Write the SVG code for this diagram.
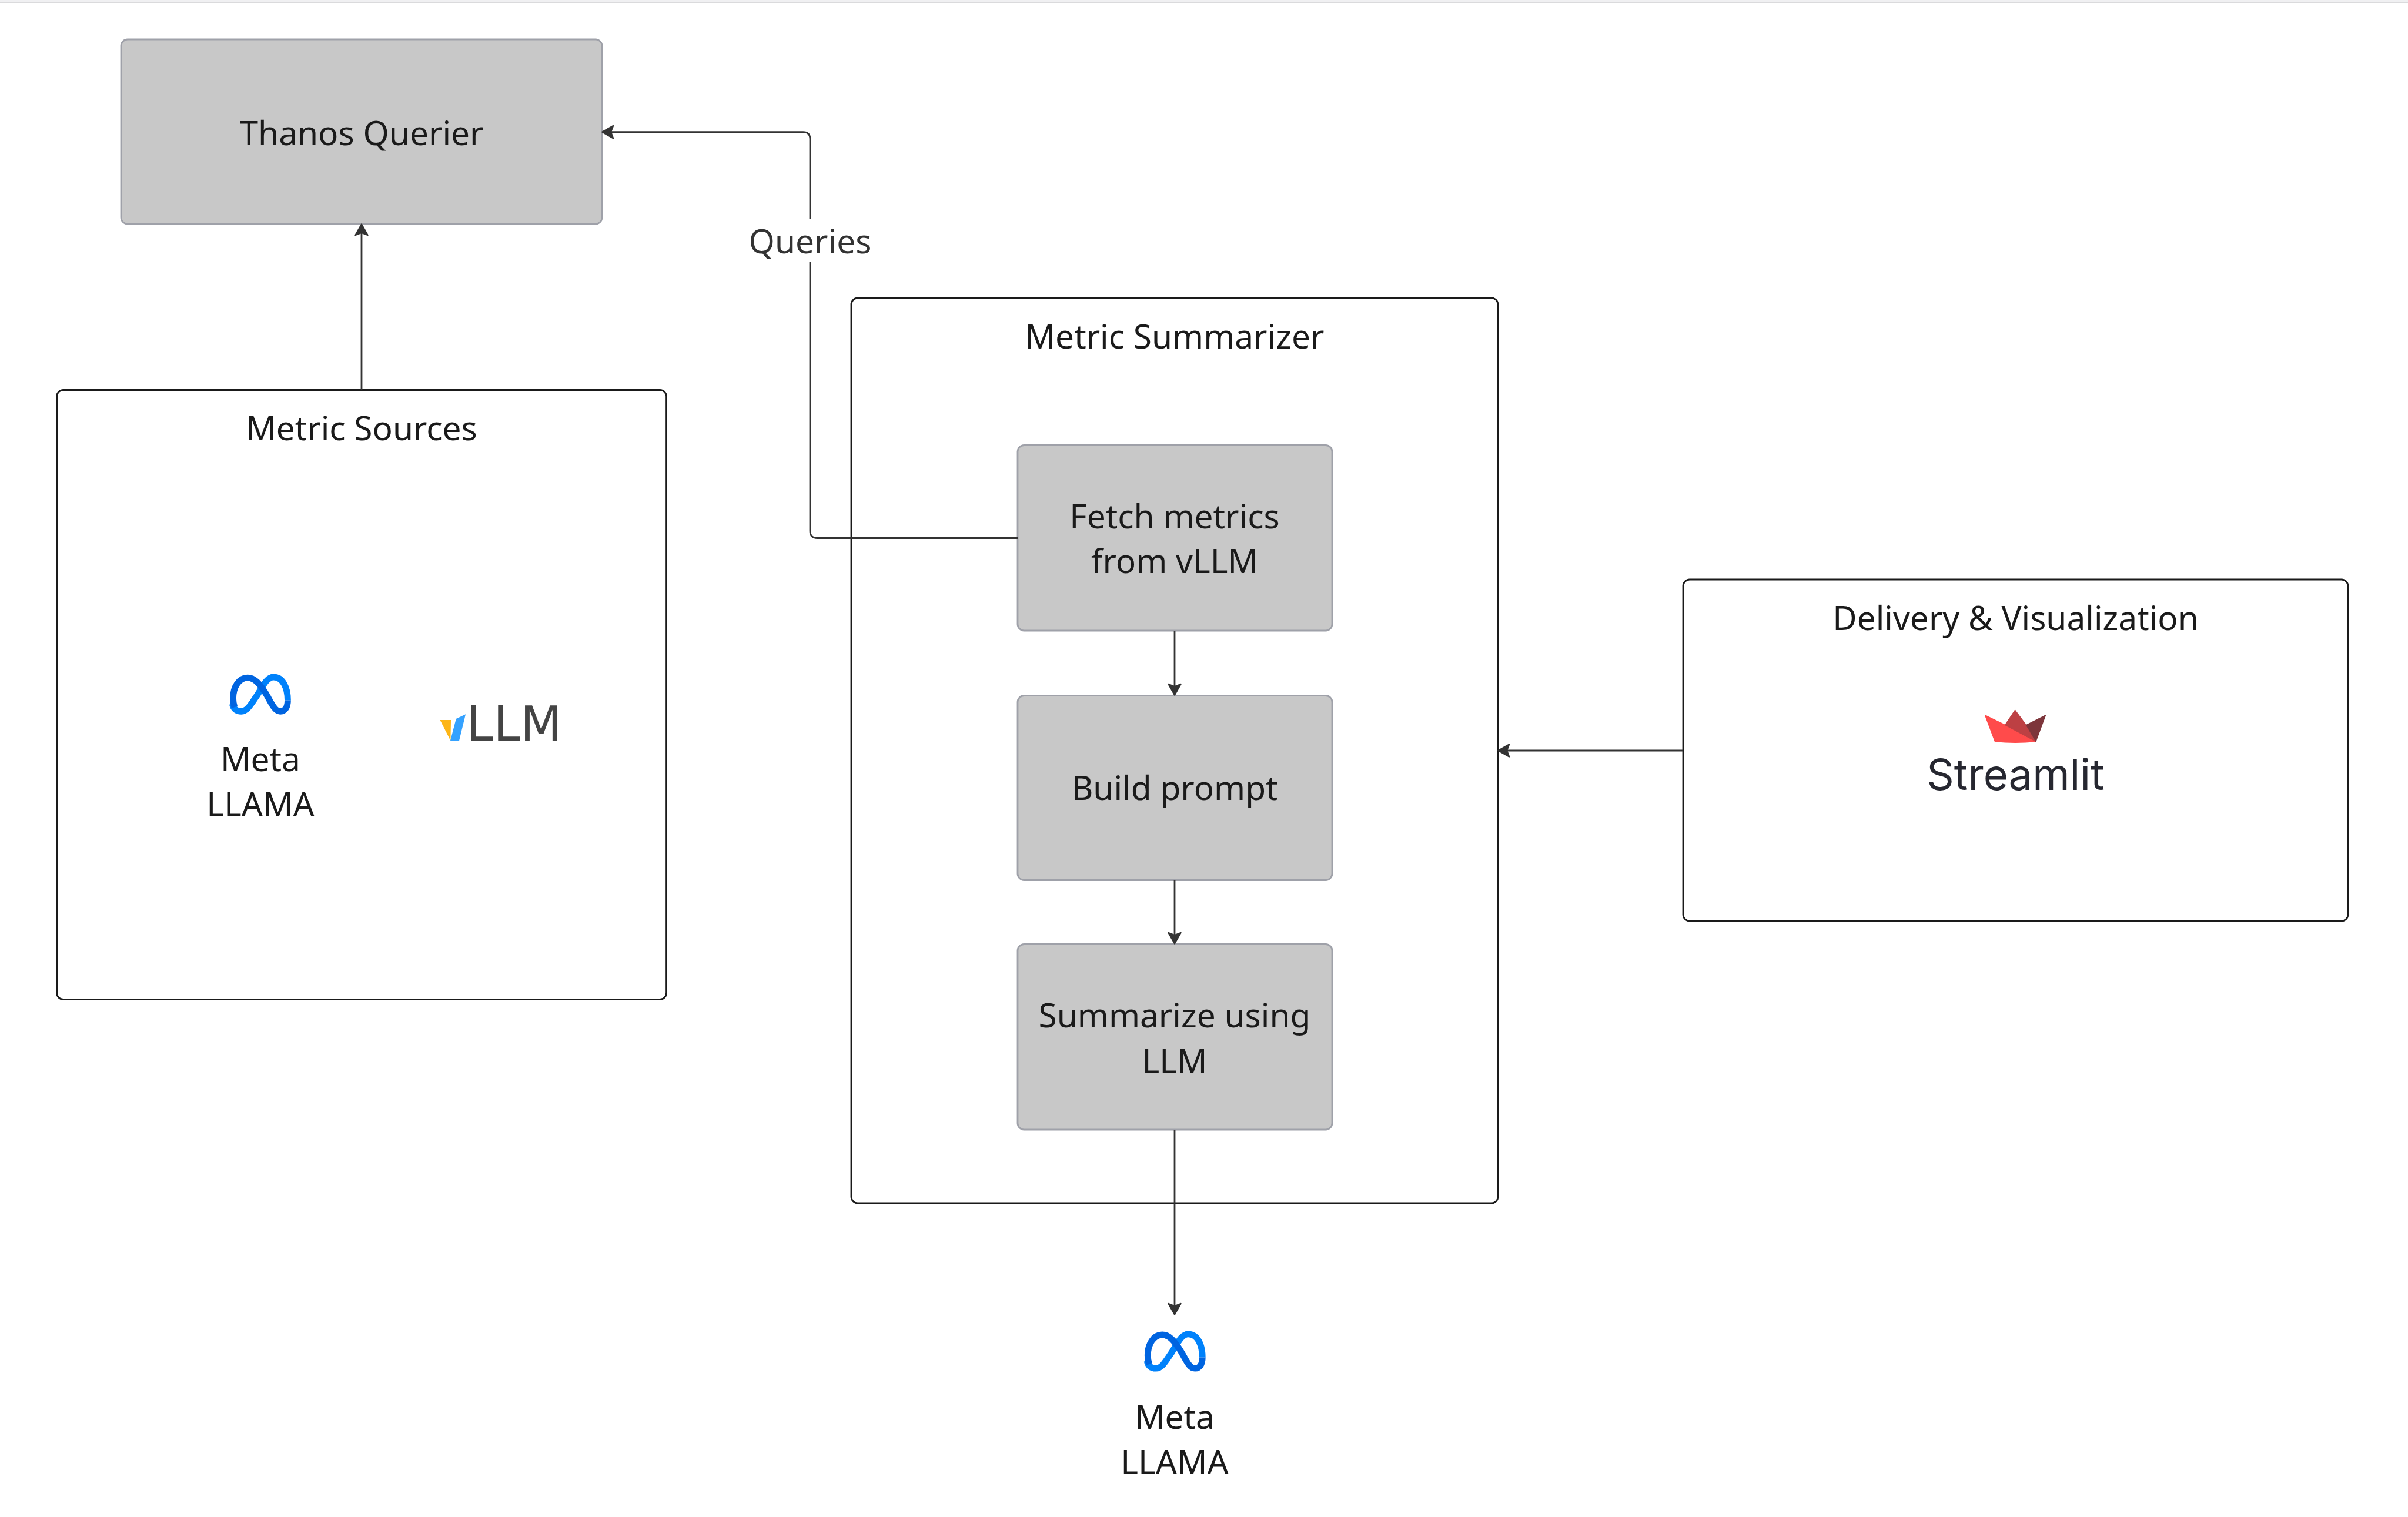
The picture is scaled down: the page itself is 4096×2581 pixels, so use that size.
<svg xmlns="http://www.w3.org/2000/svg" xmlns:xlink="http://www.w3.org/1999/xlink" width="4096" height="2581" viewBox="0 0 4096 2581">
<style>
.proc{fill:#c8c8c8;stroke:#9fa1a9;stroke-width:2.8}
.cont{fill:#fff;stroke:#1a1a1a;stroke-width:2.8}
text{font-family:"Noto Sans","Open Sans","Liberation Sans",sans-serif;font-size:56.8px;fill:#1a1a1a;text-anchor:middle}
.conn{fill:none;stroke:#333;stroke-width:2.8;marker-end:url(#arrow)}
</style>
<defs>
<marker id="arrow" markerUnits="userSpaceOnUse" markerWidth="24" markerHeight="28" viewBox="0 0 24 28" refX="14" refY="14" orient="auto" overflow="visible">
<path d="M3 3.5L21.5 14L3 24.5L7 14Z" fill="#333" stroke="#333" stroke-width="2.4" stroke-linejoin="round"/>
</marker>
<g id="meta-mark" fill="none" stroke-width="40">
<path stroke="#0082fb" d="M300 745C305 775 325 791 355 791C395 791 420 740 455 690C490 635 515 576 558 576C615 576 647 640 647 722"/>
<path stroke="#0064e0" d="M313 765C306 745 304 725 304 710C304 640 340 580 395 580C440 580 470 620 500 665C540 725 560 791 600 791C630 791 647 765 647 722"/>
</g>
</defs>
<rect width="4096" height="2581" fill="#fff"/>
<rect width="4096" height="3.4" fill="#f0f0f2"/>
<rect y="3.4" width="4096" height="1.4" fill="#d2d2d4"/>

<g id="thanos-querier">
<rect class="proc" x="206" y="67" width="818" height="314" rx="11"/>
<text x="615" y="247">Thanos Querier</text>
</g>
<g id="metric-sources">
<rect class="cont" x="96.6" y="663.5" width="1037" height="1037" rx="11"/>
<text x="615" y="749">Metric Sources</text>
<g id="meta-llama-source">
<use xlink:href="#meta-mark" href="#meta-mark" transform="translate(314.1 995.9) scale(.271)"/>
<text x="443" y="1312">Meta</text>
<text x="443" y="1389">LLAMA</text>
</g>
<g id="vllm-logo">
<polygon points="748.5,1224.9 767,1224.9 766.4,1260.2" fill="#fdb515"/>
<polygon points="775.8,1223 792,1215.2 781,1260.2 766,1260.2" fill="#35a2ff"/>
<text x="793.6" y="1260" style="font-family:'DejaVu Sans',sans-serif;font-size:82px;fill:#444;text-anchor:start">LLM</text>
</g>
</g>
<g id="metric-summarizer">
<rect class="cont" x="1448" y="507" width="1100" height="1540" rx="11"/>
<text x="1998" y="593">Metric Summarizer</text>
</g>
<g id="fetch-metrics">
<rect class="proc" x="1731" y="757.5" width="535" height="315.5" rx="11"/>
<text x="1998" y="899">Fetch metrics</text>
<text x="1998" y="975">from vLLM</text>
</g>
<g id="build-prompt">
<rect class="proc" x="1731" y="1183.5" width="535" height="314" rx="11"/>
<text x="1998" y="1361">Build prompt</text>
</g>
<g id="summarize-llm">
<rect class="proc" x="1731" y="1606.5" width="535" height="315.5" rx="11"/>
<text x="1998" y="1748">Summarize using</text>
<text x="1998" y="1826">LLM</text>
</g>
<g id="delivery-visualization">
<rect class="cont" x="2863" y="986" width="1131" height="581" rx="11"/>
<text x="3428.5" y="1072">Delivery &amp; Visualization</text>
<g id="streamlit-logo">
<path d="M3376.6 1216.8L3410.5 1233.5L3463 1261.5Q3428 1265 3393.5 1261.5Z" fill="#ff4b4b" stroke="#ff4b4b" stroke-width="1.5" stroke-linejoin="round"/>
<path d="M3410.5 1233.5L3427.6 1208L3446.6 1233.5L3463 1261.5Z" fill="#bd4043" stroke="#bd4043" stroke-width="1.2" stroke-linejoin="round"/>
<path d="M3446.6 1233.5L3479.6 1216.8L3463 1261.5Z" fill="#7d353b" stroke="#7d353b" stroke-width="1.2" stroke-linejoin="round"/>
<text x="3428.5" y="1344" style="font-family:Inter,sans-serif;font-size:72.5px;fill:#262730">Streamlit</text>
</g>
</g>
<g id="meta-llama-output">
<use xlink:href="#meta-mark" href="#meta-mark" transform="translate(1869.9 2113.8) scale(.271)"/>
<text x="1998" y="2431">Meta</text>
<text x="1998" y="2508">LLAMA</text>
</g>

<g id="connectors">
<path class="conn" d="M615 663.5V389"/>
<path class="conn" d="M1731 915.5H1390Q1378 915.5 1378 903.5V236.6Q1378 224.6 1366 224.6H1032"/>
<path class="conn" d="M1998 1073V1175"/>
<path class="conn" d="M1998 1497.5V1598"/>
<path class="conn" d="M1998 1922V2229"/>
<path class="conn" d="M2863 1277H2556"/>
<g id="queries-label">
<rect x="1270" y="372.6" width="216" height="72.4" fill="#fff"/>
<text x="1378" y="431" style="fill:#333">Queries</text>
</g>
</g>
</svg>
